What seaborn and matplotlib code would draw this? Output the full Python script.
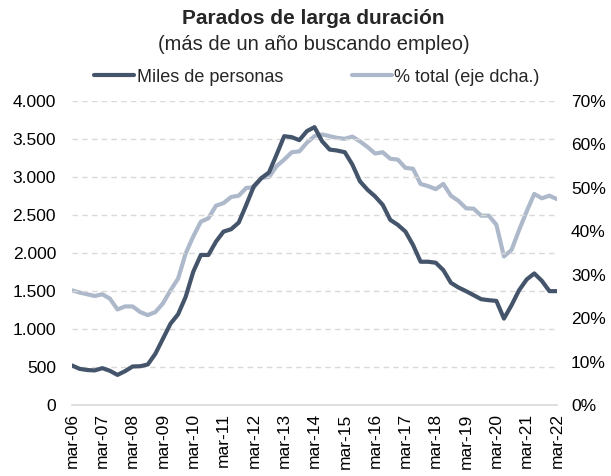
import matplotlib
matplotlib.use("Agg")
import matplotlib.pyplot as plt
import seaborn as sns
import pandas as pd
import numpy as np
from matplotlib.ticker import FuncFormatter

years = list(range(6, 23))
tick_labels = [f"mar-{y:02d}" for y in years]

miles = [520, 476, 460, 455, 485, 450, 396, 445, 507, 510, 533, 674,
         872, 1070, 1194, 1423, 1753, 1974, 1974, 2150, 2282, 2313, 2400, 2634,
         2880, 2986, 3061, 3295, 3537, 3524, 3485, 3604, 3656, 3471, 3361, 3348,
         3326, 3163, 2943, 2832, 2744, 2634, 2436, 2370, 2282, 2106, 1885, 1885,
         1872, 1775, 1608, 1546, 1498, 1445, 1392, 1379, 1370, 1137, 1313, 1511,
         1652, 1731, 1634, 1498, 1498]
pct = [26.4, 25.9, 25.5, 25.1, 25.5, 24.5, 22.0, 22.7, 22.7, 21.4, 20.7, 21.4,
       23.4, 26.4, 29.1, 34.9, 38.8, 42.2, 43.0, 45.9, 46.5, 47.9, 48.2, 50.0,
       50.1, 52.3, 52.5, 55.0, 56.5, 58.2, 58.4, 60.4, 61.9, 62.3, 61.9, 61.5,
       61.3, 61.8, 60.7, 59.4, 57.9, 58.2, 56.7, 56.5, 54.6, 54.4, 50.9, 50.4,
       49.7, 50.9, 48.2, 47.0, 45.3, 45.2, 43.6, 43.6, 41.5, 34.2, 35.7, 40.3,
       44.6, 48.6, 47.6, 48.2, 47.4]

sns.set_theme(style="white")
plt.rcParams['font.family'] = ['Liberation Sans', 'DejaVu Sans']

df = pd.DataFrame({"q": np.arange(len(miles)), "miles": miles, "pct": pct})

dark = "#44546a"
light = "#adb9ca"

fig = plt.figure(figsize=(6.11, 4.76), dpi=100)
ax = fig.add_axes([72/611, 1-405/476, (557-72)/611, (405-101)/476])
ax2 = ax.twinx()

sns.lineplot(data=df, x="q", y="pct", ax=ax2, color=light, lw=3, label="% total (eje dcha.)", legend=False)
sns.lineplot(data=df, x="q", y="miles", ax=ax, color=dark, lw=3, label="Miles de personas", legend=False)
ax.set_zorder(ax2.get_zorder() + 1)
ax.patch.set_visible(False)

ax.set_xlim(0, len(miles) - 1)
ax.set_ylim(0, 4000)
ax2.set_ylim(0, 70)
ax.set_yticks(np.arange(0, 4001, 500))
ax2.set_yticks(np.arange(0, 71, 10))
ax.yaxis.set_major_formatter(FuncFormatter(lambda v, p: f"{int(v):,}".replace(",", ".")))
ax2.yaxis.set_major_formatter(FuncFormatter(lambda v, p: f"{int(v)}%"))
ax.set_xticks(np.arange(0, len(miles), 4))
ax.set_xticklabels(tick_labels, rotation=90)
ax.set_xlabel("")
ax.set_ylabel("")
ax2.set_ylabel("")

ax.grid(axis="y", color="#d9d9d9", linestyle=(0, (4, 3)), lw=1)
ax.grid(axis="x", visible=False)
ax2.grid(False)
for a in (ax, ax2):
    for s in a.spines.values():
        s.set_visible(False)
ax.spines["bottom"].set_visible(True)
ax.spines["bottom"].set_color("#d9d9d9")
ax.spines["bottom"].set_linewidth(1.2)

ax.tick_params(axis="y", labelsize=12.5, colors="#000000", length=0, pad=11.5)
ax2.tick_params(axis="y", labelsize=12.5, colors="#000000", length=0, pad=10)
ax.tick_params(axis="x", labelsize=12.5, colors="#000000", length=0, pad=6)

fig.text(0.513, 1-18/476, "Parados de larga duración", ha="center", va="center",
         fontsize=15, fontweight="bold")
fig.text(0.513, 1-44/476, "(más de un año buscando empleo)", ha="center", va="center",
         fontsize=14.5)

h1, l1 = ax.get_legend_handles_labels()
h2, l2 = ax2.get_legend_handles_labels()
fig.legend(h1 + h2, l1 + l2, loc="center", bbox_to_anchor=(0.519, 1-77/476), ncol=2,
           frameon=False, fontsize=13, handlelength=2.2, handletextpad=0.15,
           columnspacing=3.8)

fig.savefig("out.png", dpi=100)
